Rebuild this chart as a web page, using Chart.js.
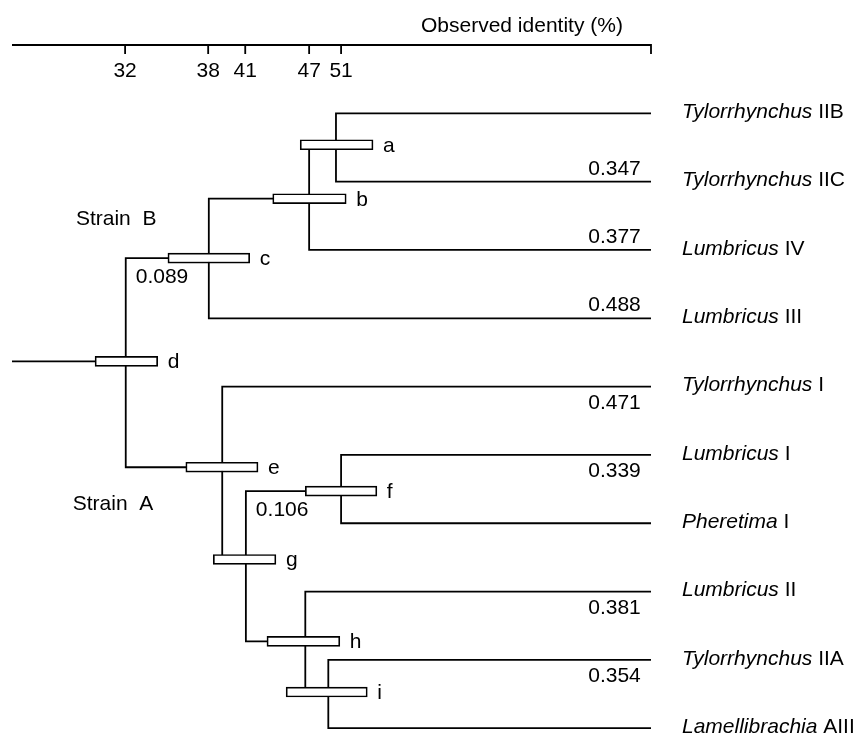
<!DOCTYPE html>
<html>
<head>
<meta charset="utf-8">
<script src="https://cdn.jsdelivr.net/npm/chart.js@4.4.1/dist/chart.umd.min.js"></script>
<style>
  html, body { margin: 0; background: #fff; }
</style>
</head>
<body>
<canvas id="tree" width="857" height="734"></canvas>
<script>
// top axis: position along the tree (0 = root, 100 = tips) and printed identity
const tickValues = [17.7, 30.7, 36.5, 46.5, 51.5]
const tickLabels = ['32', '38', '41', '47', '51']

// leaves, top to bottom
const leafGenus = ['Tylorrhynchus', 'Tylorrhynchus', 'Lumbricus', 'Lumbricus', 'Tylorrhynchus',
  'Lumbricus', 'Pheretima', 'Lumbricus', 'Tylorrhynchus', 'Lamellibrachia']
const leafChain = ['IIB', 'IIC', 'IV', 'III', 'I', 'I', 'I', 'II', 'IIA', 'AIII']
const leafDistance = ['', '0.347', '0.377', '0.488', '0.471', '0.339', '', '0.381', '0.354', '']

// internal nodes
const nodeNames = ['a', 'b', 'c', 'd', 'e', 'f', 'g', 'h', 'i']
const nodeX = [50.7, 46.5, 30.8, 17.8, 32.9, 51.5, 36.6, 45.9, 49.5]
const nodeY = [0.46, 1.25, 2.12, 3.63, 5.18, 5.53, 6.53, 7.73, 8.47]
const nodeLow = [45.1, 40.8, 24.4, 13.0, 27.2, 45.9, 31.5, 39.9, 42.9]
const nodeHigh = [56.5, 52.3, 37.2, 22.8, 38.5, 57.1, 41.3, 51.3, 55.6]
// children: number = leaf index, letter = internal node
const nodeChildren = [[0, 1], ['a', 2], ['b', 3], ['c', 'e'], [4, 'g'], [5, 6], ['f', 'h'], [7, 'i'], [8, 9]]
const innerDistance = { c: '0.089', f: '0.106' }

const INK = '#000'
const FONT = '"Liberation Sans", Arial, sans-serif'

const posOf = (child) => {
  if (typeof child === 'number') return { x: 100, y: child }
  const k = nodeNames.indexOf(child)
  return { x: nodeX[k], y: nodeY[k] }
}

const parentOf = (name) => nodeChildren.findIndex((c) => c.includes(name))

const lineSet = (data) => ({
  type: 'scatter',
  data,
  showLine: true,
  borderColor: INK,
  borderWidth: 1.8,
  pointRadius: 0,
  tension: 0,
  clip: false,
  order: 2,
})

const datasets = []
// root stem
const root = nodeNames.indexOf('d')
datasets.push(lineSet([{ x: 0, y: nodeY[root] }, { x: nodeX[root], y: nodeY[root] }]))
// one bracket per internal node
nodeChildren.forEach((kids, k) => {
  const top = posOf(kids[0])
  const bottom = posOf(kids[1])
  datasets.push(lineSet([
    { x: top.x, y: top.y },
    { x: nodeX[k], y: top.y },
    { x: nodeX[k], y: bottom.y },
    { x: bottom.x, y: bottom.y },
  ]))
})
// node boxes
datasets.push({
  type: 'bar',
  indexAxis: 'y',
  data: nodeNames.map((n, k) => ({ x: [nodeLow[k], nodeHigh[k]], y: nodeY[k] })),
  backgroundColor: '#fff',
  borderColor: INK,
  borderWidth: 1.7,
  borderSkipped: false,
  barThickness: 10,
  clip: false,
  order: 1,
})

const treeText = {
  id: 'treeText',
  afterDatasetsDraw(chart) {
    const { ctx } = chart
    const x = chart.scales.x
    const y = chart.scales.y
    ctx.save()
    ctx.fillStyle = INK
    ctx.strokeStyle = INK

    // top axis
    const ay = y.getPixelForValue(-1)
    ctx.lineWidth = 1.8
    ctx.beginPath()
    ctx.moveTo(x.getPixelForValue(0), ay)
    ctx.lineTo(x.getPixelForValue(100), ay)
    ctx.lineTo(x.getPixelForValue(100), ay + 9)
    tickValues.forEach((v) => {
      ctx.moveTo(x.getPixelForValue(v), ay)
      ctx.lineTo(x.getPixelForValue(v), ay + 9)
    })
    ctx.stroke()
    ctx.font = `21px ${FONT}`
    ctx.textAlign = 'center'
    ctx.textBaseline = 'alphabetic'
    tickValues.forEach((v, i) => ctx.fillText(tickLabels[i], x.getPixelForValue(v), ay + 32))
    ctx.textAlign = 'right'
    ctx.fillText('Observed identity (%)', x.getPixelForValue(95.6), ay - 13)

    // leaf names
    const lx = x.getPixelForValue(100) + 31
    leafGenus.forEach((g, i) => {
      const py = y.getPixelForValue(i) - 1
      ctx.textAlign = 'left'
      ctx.textBaseline = 'middle'
      ctx.font = `italic 21px ${FONT}`
      ctx.fillText(g, lx, py)
      const w = ctx.measureText(g + ' ').width
      ctx.font = `21px ${FONT}`
      ctx.fillText(leafChain[i], lx + w, py)
    })

    // branch lengths on tip branches
    ctx.font = `21px ${FONT}`
    ctx.textAlign = 'right'
    ctx.textBaseline = 'alphabetic'
    leafDistance.forEach((d, i) => {
      if (!d) return
      const py = y.getPixelForValue(i)
      const above = i >= 1 && i <= 3
      ctx.fillText(d, x.getPixelForValue(98.4), above ? py - 7 : py + 22)
    })

    // branch lengths on inner branches
    ctx.textAlign = 'left'
    Object.keys(innerDistance).forEach((name) => {
      const k = nodeNames.indexOf(name)
      const p = parentOf(name)
      ctx.fillText(innerDistance[name], x.getPixelForValue(nodeX[p]) + 10, y.getPixelForValue(nodeY[k]) + 25)
    })

    // node letters
    ctx.textBaseline = 'middle'
    nodeNames.forEach((n, k) => {
      ctx.fillText(n, x.getPixelForValue(nodeHigh[k]) + 10, y.getPixelForValue(nodeY[k]) + 1)
    })

    // strain labels
    ctx.textBaseline = 'alphabetic'
    ctx.fillText('Strain  B', x.getPixelForValue(10), y.getPixelForValue(1.64))
    ctx.fillText('Strain  A', x.getPixelForValue(9.5), y.getPixelForValue(5.81))
    ctx.restore()
  },
}

new Chart(document.getElementById('tree'), {
  type: 'scatter',
  data: { datasets },
  options: {
    responsive: false,
    animation: false,
    events: [],
    layout: { padding: { left: 12, right: 206, top: 45, bottom: 1 } },
    plugins: { legend: { display: false }, tooltip: { enabled: false } },
    scales: {
      x: { type: 'linear', display: false, min: 0, max: 100, offset: false },
      y: { type: 'linear', display: false, min: -1, max: 9.07, reverse: true, offset: false },
    },
  },
  plugins: [treeText],
})
</script>
</body>
</html>
